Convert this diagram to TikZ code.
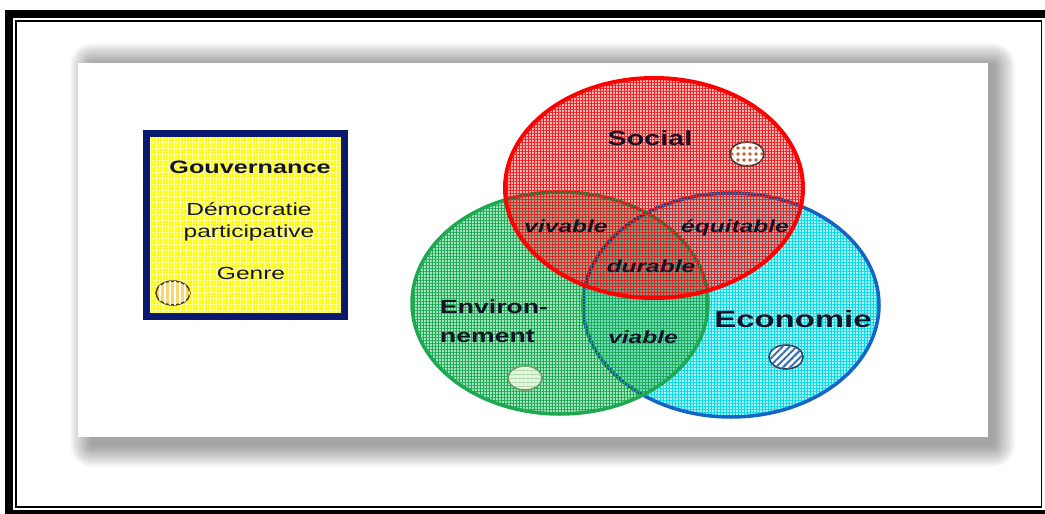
\documentclass[tikz,border=0pt]{standalone}
\usepackage{fontspec}
\setmainfont{Liberation Sans}
% wide sans face used for every label
\newfontfamily\widesans[FakeStretch=1.4]{Liberation Sans}
\usetikzlibrary{patterns.meta,shapes.geometric}

\definecolor{ink}{RGB}{20,20,40}
\definecolor{navy}{RGB}{10,25,110}
\definecolor{boxyellow}{RGB}{255,255,0}
\definecolor{boxgrid}{RGB}{255,255,170}
\definecolor{socbase}{RGB}{255,185,185}
\definecolor{socgrid}{RGB}{240,30,30}
\definecolor{socline}{RGB}{255,0,0}
\definecolor{envbase}{RGB}{165,228,190}
\definecolor{envgrid}{RGB}{30,170,85}
\definecolor{envline}{RGB}{30,168,80}
\definecolor{ecobase}{RGB}{175,248,252}
\definecolor{ecogrid}{RGB}{0,220,235}
\definecolor{ecoline}{RGB}{20,100,200}

\newcommand{\fsz}[1]{\fontsize{#1}{#1}\selectfont}

\begin{document}
\begin{tikzpicture}[x=1pt,y=-1pt,
  lbl/.style={inner sep=0pt, text=ink, anchor=base},
  boldlbl/.style={lbl, font=\widesans\bfseries\fsz{#1}},
  itlbl/.style={lbl, font=\widesans\bfseries\itshape\fsz{17.5}},
  plainlbl/.style={lbl, font=\widesans\fsz{17.5}},
  gridfill/.style={pattern={Hatch[distance=3pt,angle=0,line width=0.7pt]}, pattern color=#1},
  marker/.style={ellipse, inner sep=0pt, minimum width=34pt, minimum height=24pt, line width=1.5pt}]
\useasboundingbox (0,0) rectangle (1045,514);

% outer double frame
\draw[line width=8pt] (9,14) rectangle (1049,514);
\draw[line width=1.4pt] (16,21) rectangle (1041.5,507);

% soft shadow built from stacked translucent layers, then the white card
\foreach \i in {1,...,22}
  \fill[black, opacity=0.018, rounded corners=\i pt] (92-\i,65-\i) rectangle (993+\i,445+\i);
\fill[white] (78,63) rectangle (988,437);

% governance box
\fill[boxyellow] (146.5,133.5) rectangle (344.5,316.5);
\fill[gridfill=boxgrid, fill opacity=0.6] (146.5,133.5) rectangle (344.5,316.5);
\draw[navy, line width=7pt] (146.5,133.5) rectangle (344.5,316.5);
\node[boldlbl=18] (gouv) at (250,173) {Gouvernance};
\node[plainlbl] (demo) at (249,215) {Démocratie};
\node[plainlbl] (part) at (249,237) {participative};
\node[plainlbl] (genre) at (251,279) {Genre};
\node[marker, draw={rgb,255:red,80;green,60;blue,20}, fill={rgb,255:red,250;green,215;blue,110},
  postaction={pattern={Lines[angle=90,distance=5pt,line width=1.6pt]}, pattern color=white}] (mkgov) at (173,293) {};

% three overlapping circles: tinted base multiplied, grid laid over it
\coordinate (ceco) at (731,305);
\coordinate (cenv) at (560,303);
\coordinate (csoc) at (654,188);
\fill[ecobase, blend mode=multiply] (ceco) ellipse [x radius=148, y radius=112];
\fill[gridfill=ecogrid, fill opacity=0.7] (ceco) ellipse [x radius=148, y radius=112];
\draw[ecoline, line width=3.5pt] (ceco) ellipse [x radius=148, y radius=112];
\fill[envbase, blend mode=multiply] (cenv) ellipse [x radius=148, y radius=111];
\fill[gridfill=envgrid, fill opacity=0.65] (cenv) ellipse [x radius=148, y radius=111];
\draw[envline, line width=3.5pt] (cenv) ellipse [x radius=148, y radius=111];
\fill[socbase, blend mode=multiply] (csoc) ellipse [x radius=149, y radius=110];
\fill[gridfill=socgrid, fill opacity=0.7] (csoc) ellipse [x radius=149, y radius=110];
\draw[socline, line width=4pt] (csoc) ellipse [x radius=149, y radius=110];

% circle markers
\node[marker, draw={rgb,255:red,60;green,50;blue,50}, fill=white,
  postaction={pattern={Dots[distance=6pt,radius=1.8pt]}, pattern color={rgb,255:red,215;green,85;blue,40}}] (mksoc) at (747,154) {};
\node[marker, draw={rgb,255:red,110;green,150;blue,100}, fill={rgb,255:red,228;green,245;blue,222},
  postaction={pattern={Lines[angle=0,distance=4pt,line width=0.8pt]}, pattern color={rgb,255:red,140;green,195;blue,140}}] (mkenv) at (525,378) {};
\node[marker, draw={rgb,255:red,50;green,50;blue,60}, fill=white,
  postaction={pattern={Lines[angle=45,distance=5pt,line width=2pt]}, pattern color={rgb,255:red,50;green,110;blue,190}}] (mkeco) at (786,357) {};

% labels
\node[boldlbl=20.5] (social) at (650,145) {Social};
\node[boldlbl=19, anchor=base west] (env1) at (440,313) {Environ-};
\node[boldlbl=19, anchor=base west] (env2) at (440,342) {nement};
\node[boldlbl=23.5] (eco) at (793,327) {Economie};
\node[itlbl] (vivable) at (566,232) {vivable};
\node[itlbl] (equit) at (735,232) {équitable};
\node[itlbl] (durable) at (651,272) {durable};
\node[itlbl] (viable) at (643,343) {viable};
\end{tikzpicture}
\end{document}
